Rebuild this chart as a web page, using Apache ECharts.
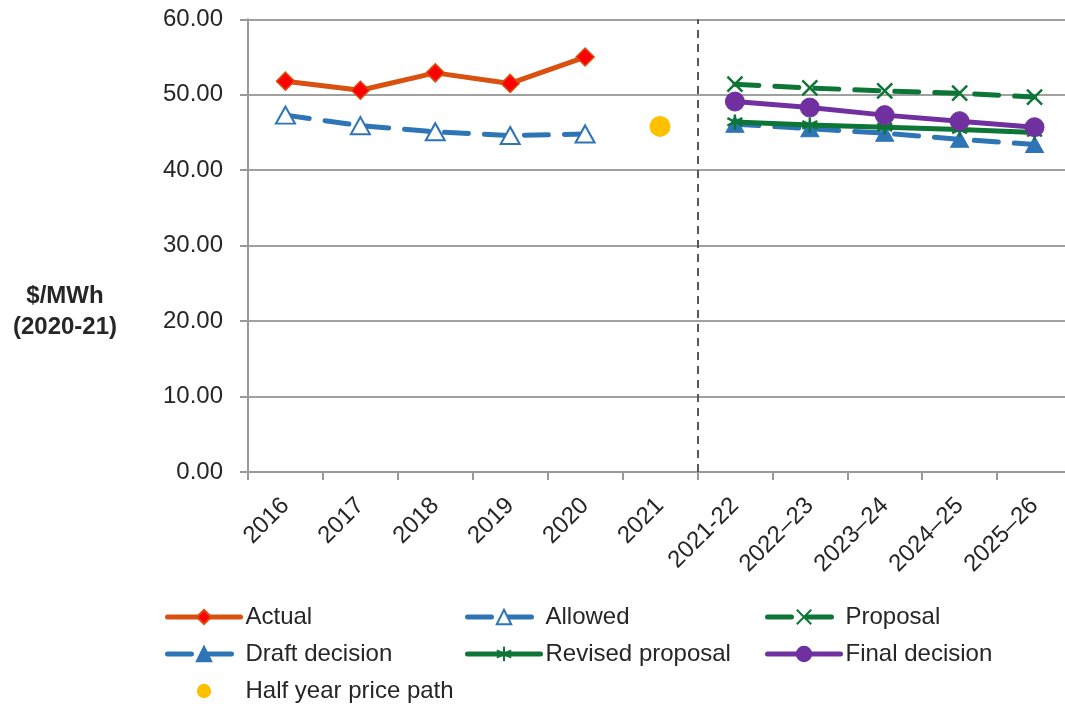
<!DOCTYPE html>
<html><head><meta charset="utf-8">
<script src="https://cdn.jsdelivr.net/npm/echarts@6/dist/echarts.min.js"></script>
<style>html,body{margin:0;padding:0;background:#fff}#c{width:1065px;height:704px}</style>
</head><body><div id="c"></div>
<script>
const categories = ['2016','2017','2018','2019','2020','2021','2021-22','2022–23','2023–24','2024–25','2025–26'];
const yTicks = [0,10,20,30,40,50,60];
const actual   = [51.8, 50.6, 52.9, 51.5, 55.0, null, null, null, null, null, null];
const allowed  = [47.3, 45.9, 45.1, 44.6, 44.8, null, null, null, null, null, null];
const proposal = [null, null, null, null, null, null, 51.4, 50.9, 50.5, 50.2, 49.7];
const draft    = [null, null, null, null, null, null, 46.1, 45.5, 44.9, 44.1, 43.4];
const revised  = [null, null, null, null, null, null, 46.4, 46.0, 45.7, 45.4, 45.0];
const finalDec = [null, null, null, null, null, null, 49.1, 48.3, 47.3, 46.5, 45.7];
const halfYear = [null, null, null, null, null, 45.8, null, null, null, null, null];
const dividerAt = 6; // boundary between 2021 and 2021-22 (in category units)

const FONT = 'Liberation Sans';
const BLUE = '#2E75B6', GREEN = '#0D7535', ORANGE = '#D9500F', PURPLE = '#7030A0', GOLD = '#FFC000';
const X_PATH = 'path://M0,0L10,10M10,0L0,10';
const AST_PATH = 'path://M5,0L5,10M0,2.5L10,7.5M0,7.5L10,2.5';

const chart = echarts.init(document.getElementById('c'), null, {renderer: 'canvas'});
const legendCommon = {
  orient: 'vertical', itemWidth: 73, itemHeight: 18, itemGap: 13, padding: 0, top: 605, height: 150,
  lineStyle: {width: 5, cap: 'round'},
  textStyle: {fontFamily: FONT, fontSize: 24, color: '#262626'}, selectedMode: false
};
chart.setOption({
  animation: false,
  grid: {left: 248, width: 824, top: 19.3, bottom: 232, containLabel: false, outerBoundsMode: 'none'},
  graphic: [{
    type: 'text', x: 65, y: 296,
    style: {text: '$/MWh', fontFamily: FONT, fontSize: 24, fontWeight: 'bold',
      fill: '#262626', align: 'center', verticalAlign: 'middle'}
  }, {
    type: 'text', x: 65, y: 327,
    style: {text: '(2020-21)', fontFamily: FONT, fontSize: 24, fontWeight: 'bold',
      fill: '#262626', align: 'center', verticalAlign: 'middle'}
  }],
  legend: [
    Object.assign({left: 165, data: ['Actual', 'Draft decision', 'Half year price path']}, legendCommon),
    Object.assign({left: 465, data: ['Allowed', 'Revised proposal']}, legendCommon),
    Object.assign({left: 765, data: ['Proposal', 'Final decision']}, legendCommon)
  ],
  xAxis: [{
    type: 'category', data: categories, boundaryGap: true,
    axisLine: {lineStyle: {color: '#999', width: 2}},
    axisTick: {show: true, length: 8, interval: 0, lineStyle: {color: '#999', width: 2}},
    axisLabel: {interval: 0, rotate: 45, margin: 30, fontFamily: FONT, fontSize: 24, color: '#262626'}
  }, {
    type: 'value', min: 0, max: categories.length, show: false
  }],
  yAxis: {
    type: 'value', min: yTicks[0], max: yTicks[yTicks.length - 1], interval: 10,
    axisLine: {show: true, lineStyle: {color: '#999', width: 2}},
    axisTick: {show: true, length: 8, lineStyle: {color: '#999', width: 2}},
    splitLine: {lineStyle: {color: '#A0A0A0', width: 2}},
    axisLabel: {margin: 25, fontFamily: FONT, fontSize: 24, color: '#262626',
      formatter: v => v.toFixed(2)}
  },
  series: [
    {name: 'divider', type: 'line', xAxisIndex: 1, data: [], silent: true,
     markLine: {silent: true, symbol: 'none', label: {show: false},
       lineStyle: {color: '#595959', type: [8, 6], width: 2}, data: [{xAxis: dividerAt}]}},
    {name: 'Actual', type: 'line', data: actual, symbol: 'diamond', symbolSize: 18, showAllSymbol: true,
     lineStyle: {color: ORANGE, width: 5}, itemStyle: {color: '#FF0000', borderColor: ORANGE, borderWidth: 1.5}},
    {name: 'Allowed', type: 'line', data: allowed, symbol: 'triangle', symbolSize: [19, 17], showAllSymbol: true,
     lineStyle: {color: BLUE, width: 5, type: [24, 16], cap: 'round'},
     itemStyle: {color: '#fff', borderColor: BLUE, borderWidth: 2}},
    {name: 'Proposal', type: 'line', data: proposal, symbol: X_PATH, symbolSize: 15, showAllSymbol: true,
     lineStyle: {color: GREEN, width: 5, type: [24, 16], cap: 'round'},
     itemStyle: {color: GREEN, borderColor: GREEN, borderWidth: 2.5}},
    {name: 'Draft decision', type: 'line', data: draft, symbol: 'triangle', symbolSize: [18, 16], showAllSymbol: true,
     lineStyle: {color: BLUE, width: 5, type: [24, 16], cap: 'round'},
     itemStyle: {color: BLUE, borderColor: BLUE, borderWidth: 1}},
    {name: 'Revised proposal', type: 'line', data: revised, symbol: AST_PATH, symbolSize: 15, showAllSymbol: true,
     lineStyle: {color: GREEN, width: 5},
     itemStyle: {color: GREEN, borderColor: GREEN, borderWidth: 2.5}},
    {name: 'Final decision', type: 'line', data: finalDec, symbol: 'circle', symbolSize: 19, showAllSymbol: true,
     lineStyle: {color: PURPLE, width: 5}, itemStyle: {color: PURPLE, borderColor: PURPLE, borderWidth: 1}},
    {name: 'Half year price path', type: 'line', data: halfYear, symbol: 'circle', symbolSize: 21, showAllSymbol: true,
     lineStyle: {opacity: 0, width: 0}, itemStyle: {color: GOLD}}
  ]
});
</script></body></html>
